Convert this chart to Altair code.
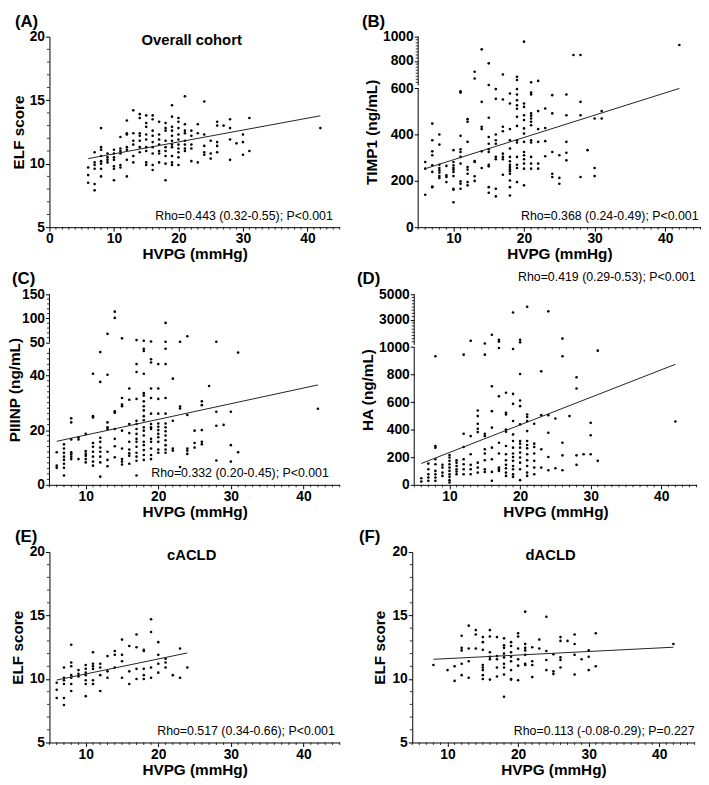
import altair as alt
import pandas as pd

FONT = "Liberation Sans"

# ---------------- data (HVPG levels and the values read at each level) ----------------
A_hvpg = [6, 7, 8, 9, 10, 11, 12, 13, 14, 15, 16, 17, 18, 19, 20, 21, 22, 23, 24, 25, 26, 27, 28, 29, 30, 31, 42]
A_elf = [
    [9.7, 9.1, 8.5],
    [10.9, 10.1, 9.9, 9.6, 8.4, 7.9],
    [12.8, 11.3, 11.1, 10.6, 10.2, 10.0, 9.6, 9.0],
    [10.8, 10.5, 10.3, 10.1],
    [11.1, 10.8, 10.5, 10.3, 9.8, 9.6, 8.7],
    [12.1, 11.2, 11.0, 10.8, 9.9, 9.7],
    [13.4, 12.4, 12.3, 11.3, 11.1, 10.3, 9.0],
    [14.2, 12.4, 11.8, 11.5, 10.6, 10.1],
    [13.9, 13.6, 12.4, 12.2, 11.8, 11.3, 10.9],
    [13.8, 13.2, 12.9, 12.3, 11.9, 11.3, 11.0, 10.1, 9.9],
    [13.8, 13.5, 12.6, 12.2, 11.7, 11.3, 10.8, 9.9, 9.5],
    [13.3, 12.3, 11.9, 11.5, 11.0, 10.8, 10.1],
    [13.2, 12.8, 12.6, 11.8, 11.3, 11.0, 10.6, 10.0, 8.7],
    [14.6, 13.7, 12.9, 12.6, 12.2, 11.8, 11.5, 11.3, 10.6, 10.1, 9.9],
    [13.6, 13.3, 12.8, 12.3, 11.9, 11.5, 11.2, 10.9, 10.5, 9.9],
    [15.3, 13.1, 12.6, 12.4, 11.8, 11.5, 11.2, 11.0],
    [12.6, 12.2, 11.5, 11.2, 10.2],
    [13.1, 12.4, 10.1],
    [14.9, 12.3, 11.4, 10.9, 10.7],
    [11.8, 10.8, 10.4],
    [13.3, 13.0, 11.7, 11.4, 10.9],
    [13.0],
    [13.5, 12.8, 11.9, 10.3],
    [11.6],
    [12.3, 11.7, 10.7],
    [13.6, 11.0],
    [12.8],
]

B_hvpg = A_hvpg
B_timp1 = [
    [282, 253, 140],
    [448, 376, 328, 311, 268, 239, 176, 173],
    [401, 357, 270, 256, 246, 236, 221, 213],
    [265, 224, 217, 195],
    [333, 282, 268, 257, 249, 239, 221, 166, 162, 108],
    [588, 582, 395, 337, 325, 304, 275, 198, 188, 166],
    [467, 456, 369, 260, 249, 231, 195, 181],
    [712, 657, 286, 282, 220, 200],
    [896, 542, 434, 424, 328, 256],
    [781, 603, 473, 390, 361, 337, 325, 270, 263, 173, 149],
    [597, 555, 401, 376, 361, 304, 294, 166, 133],
    [690, 552, 434, 415, 318, 304, 294, 227],
    [578, 535, 424, 376, 340, 304, 285, 270, 260, 250, 242, 231, 202, 173, 137],
    [671, 644, 597, 574, 549, 527, 512, 477, 438, 376, 366, 304, 270, 256, 195],
    [959, 535, 520, 484, 463, 427, 405, 369, 325, 311, 294, 275, 253, 181],
    [625, 582, 574, 492, 482, 470, 456, 441, 376, 366, 304, 275, 253],
    [637, 502, 424, 369, 275, 253],
    [513, 429, 372, 307],
    [571, 492, 325, 231, 217],
    [311, 213, 188],
    [574, 484, 369, 322, 289],
    [849],
    [849, 542, 484, 217],
    [333],
    [470, 256, 221],
    [502, 470],
    [932],
]

C_hvpg = A_hvpg
C_piiinp = [
    [11.9, 7.0, 6.2],
    [14.8, 13.3, 11.7, 10.3, 9.1, 7.7, 6.2, 3.4],
    [24.3, 22.8, 16.6, 11.9, 11.2, 10.3, 9.4],
    [17.4, 16.6, 9.4],
    [18.6, 12.3, 11.3, 10.6, 9.4, 8.2],
    [40.6, 25.1, 24.6, 15.3, 13.9, 12.1, 10.3, 8.5, 7.0],
    [48.5, 37.6, 17.2, 15.7, 13.6, 12.1, 10.3, 8.2, 3.0],
    [68, 40.2, 22.8, 21.0, 20.4, 12.1, 9.1, 6.8],
    [114, 101, 26.9, 26.3, 20.4, 16.8, 14.1, 10.1],
    [58.6, 31.7, 29.3, 28.7, 19.8, 13.3, 9.4, 8.5, 7.4],
    [35.2, 31.1, 22.2, 18.9, 15.7, 12.9, 11.5, 10.6, 7.7],
    [55, 44.1, 41.2, 31.4, 23.4, 22.2, 20.4, 18.6, 16.8, 15.7, 13.9, 11.7, 10.3, 8.8, 3.4],
    [53.6, 49.7, 48.9, 40.6, 33.5, 32.6, 30.5, 28.7, 27.2, 25.1, 23.6, 21.0, 19.8, 18.0, 15.7, 14.5, 12.7, 10.9, 9.1],
    [52.1, 45.9, 44.7, 35.2, 31.7, 26.0, 22.2, 21.0, 20.4, 16.8, 15.7, 13.3, 10.9, 9.4],
    [44.1, 35.2, 31.4, 26.0, 22.4, 21.2, 20.0, 18.6, 17.4, 15.7, 12.9, 11.7],
    [90.7, 51.4, 49.7, 44.1, 31.7, 26.0, 22.4, 21.0, 19.6, 18.0, 16.3, 14.5, 12.9, 11.7],
    [38.8, 23.4, 13.3, 12.5],
    [51.4, 28.6, 27.9, 6.5],
    [62.9, 25.5, 13.3, 12.5, 11.3],
    [19.8, 15.3, 13.6],
    [30.5, 29.1, 20.0, 15.7, 14.8],
    [36.1],
    [51.4, 26.7, 21.6, 8.9],
    [21.9],
    [26.7, 14.5, 8.5],
    [48.3, 11.9],
    [27.8],
]

D_hvpg = A_hvpg
D_ha = [
    [48, 24],
    [154, 113, 77, 53, 29],
    [933, 282, 270, 186, 149, 101, 77, 53, 29],
    [145, 125, 89, 65],
    [217, 198, 174, 149, 125, 101, 77, 58, 34, 17],
    [178, 161, 137, 113, 96, 77],
    [945, 371, 275, 186, 149, 113, 77],
    [1328, 354, 222, 145, 113, 77],
    [540, 499, 443, 407, 383, 161, 125, 89],
    [1119, 945, 371, 354, 258, 227, 178, 113, 94],
    [1806, 716, 535, 415, 270, 186, 94, 29],
    [1418, 1269, 993, 643, 306, 227, 125, 113, 101],
    [668, 523, 511, 402, 386, 282, 222, 178, 145, 120, 89, 65],
    [3567, 986, 660, 588, 463, 366, 318, 270, 227, 202, 174, 137, 113, 77, 58],
    [1418, 1209, 805, 612, 571, 439, 318, 299, 270, 234, 198, 161, 113, 34],
    [4015, 511, 492, 463, 390, 318, 289, 265, 222, 178, 137, 89, 65],
    [443, 299, 275, 227, 174, 125, 77],
    [824, 506, 258, 125],
    [3657, 506, 378, 202, 106],
    [482, 120],
    [1507, 933, 306, 214, 106],
    [499],
    [781, 699, 214, 145],
    [222],
    [450, 360, 222],
    [974, 174],
    [460],
]

E_hvpg = [6, 7, 8, 9, 10, 11, 12, 13, 14, 15, 16, 17, 18, 19, 20, 21, 22, 23, 24]
E_elf = [
    [9.7, 9.15, 8.5],
    [10.9, 10.1, 9.9, 9.6, 8.5, 7.95],
    [12.7, 11.3, 11.0, 10.3, 10.1, 9.6, 9.05],
    [10.7, 10.4, 10.2],
    [11.1, 10.8, 10.5, 10.3, 9.9, 9.6, 8.65],
    [12.1, 11.2, 11.0, 10.8, 9.9, 9.6],
    [11.2, 10.9, 10.3, 9.05],
    [11.8, 10.6, 10.1],
    [12.2, 11.9, 10.9],
    [13.1, 11.9, 11.4, 10.1],
    [12.6, 10.6, 9.6],
    [13.5, 12.5, 10.8, 10.0],
    [12.3, 12.2, 10.8, 10.3, 10.0],
    [14.7, 13.7, 10.9, 10.1],
    [12.9, 11.9, 11.2, 10.5],
    [11.6, 11.3, 10.9],
    [10.3],
    [12.4, 10.1],
    [10.9],
]

F_hvpg = [8, 10, 11, 12, 13, 14, 15, 16, 17, 18, 19, 20, 21, 22, 23, 24, 25, 26, 27, 28, 29, 30, 31, 42]
F_elf = [
    [11.1],
    [10.7],
    [11.0, 9.85],
    [13.4, 12.45, 12.25, 11.2, 10.3],
    [14.2, 12.4, 11.4, 10.1],
    [13.85, 13.5, 12.4],
    [13.3, 12.9, 12.3, 11.1, 10.9, 10.7, 10.3, 10.0],
    [13.85, 13.35, 12.1, 11.75, 11.55, 9.95],
    [13.3, 11.8, 11.55, 10.9, 10.2],
    [13.2, 12.65, 12.45, 12.0, 11.7, 11.2, 10.9, 10.35, 8.6],
    [12.9, 12.6, 12.1, 11.75, 11.4, 10.7, 10.0, 9.95],
    [13.6, 13.35, 12.4, 11.55, 11.05, 9.9],
    [15.3, 12.75, 12.45, 12.25, 11.9, 11.2, 11.1],
    [12.5, 11.4, 11.1, 10.15],
    [13.1, 12.4],
    [14.9, 12.2, 11.5, 10.7],
    [11.95, 10.6, 10.4],
    [13.3, 13.0, 11.7, 11.5, 10.9],
    [13.0],
    [13.5, 12.75, 11.9, 10.35],
    [11.55],
    [12.25, 11.75, 10.7],
    [13.6, 11.0],
    [12.75],
]

# regression line end points
A_fit_x, A_fit_y = [6, 42], [10.4, 13.77]
B_fit_x, B_fit_y = [6, 42], [253, 600]
C_fit_x, C_fit_y = [6, 42], [15.9, 36.5]
D_fit_x, D_fit_y = [6, 42], [155, 875]
E_fit_x, E_fit_y = [6, 24], [9.92, 12.05]
F_fit_x, F_fit_y = [8, 42], [11.55, 12.5]

rho_texts = [
    "Rho=0.443 (0.32-0.55); P<0.001",
    "Rho=0.368 (0.24-0.49); P<0.001",
    "Rho=0.332 (0.20-0.45); P<0.001",
    "Rho=0.419 (0.29-0.53); P<0.001",
    "Rho=0.517 (0.34-0.66); P<0.001",
    "Rho=0.113 (-0.08-0.29); P=0.227",
]

WL, WR, H = 294, 286, 193


def flatten(levels, groups):
    xs, ys = [], []
    for x, g in zip(levels, groups):
        for y in g:
            xs.append(x)
            ys.append(y)
    return pd.DataFrame({"HVPG": xs, "val": ys})


def panel(letter, levels, groups, fit_x, fit_y, ytitle, W, xdom, xmajor,
          low_ticks, up_ticks, brk, ytop, yminor, rho, rho_dx, rho_y,
          inner=None, letter_dx=-36, y_ext=21, ytitle_pad=2):
    if brk is None:
        expr = "datum.val"
        f_low = lambda v: v
        f_up = lambda v: v
        ydom = [low_ticks[0], ytop]
    else:
        L, g, k = brk
        expr = f"datum.val <= {L} ? datum.val : {L + g} + (datum.val - {L}) * {k}"
        f_low = lambda v: v
        f_up = lambda v: L + g + (v - L) * k
        ydom = [low_ticks[0], f_up(ytop)]

    tick_pos = [f_low(v) for v in low_ticks] + [f_up(v) for v in up_ticks]
    tick_lab = [str(v) for v in low_ticks] + [str(v) for v in up_ticks]
    lab_expr = " : ".join(
        f"abs(datum.value - {p}) < 0.01 ? '{t}'" for p, t in zip(tick_pos, tick_lab)
    ) + " : ''"

    xscale = alt.Scale(domain=xdom, nice=False, zero=False)
    yscale = alt.Scale(domain=ydom, nice=False, zero=False)
    xaxis = alt.Axis(values=xmajor, title="HVPG (mmHg)", tickSize=4,
                     labelPadding=1, titlePadding=1, labelFlush=False,
                     minExtent=19, maxExtent=19)
    yaxis = alt.Axis(values=tick_pos, labelExpr=lab_expr, title=ytitle,
                     tickSize=4, labelPadding=1, titlePadding=ytitle_pad,
                     domain=(brk is None), labelFlush=False, labelOverlap=False,
                     minExtent=y_ext, maxExtent=y_ext)

    def X(field):
        return alt.X(field, scale=xscale, axis=xaxis)

    def Y(field):
        return alt.Y(field, scale=yscale, axis=yaxis)

    df = flatten(levels, groups)
    pts = alt.Chart(df).transform_calculate(disp=expr).mark_circle(
        size=7, color="black", opacity=1
    ).encode(x=X("HVPG:Q"), y=Y("disp:Q"))

    fit = alt.Chart(pd.DataFrame({"HVPG": fit_x, "val": fit_y})).transform_calculate(
        disp=expr
    ).mark_line(color="#222222", strokeWidth=1).encode(x=X("HVPG:Q"), y=Y("disp:Q"))

    xmin = [v for v in range(int(xdom[0]), int(xdom[1]) + 1) if v not in xmajor]
    xminor = alt.Chart(pd.DataFrame({"HVPG": xmin})).mark_rule(
        color="black", strokeWidth=0.8
    ).encode(x=X("HVPG:Q"), y=alt.value(H), y2=alt.value(H + 2.5))

    layers = [pts, fit, xminor]

    if yminor:
        ymin_pos = [f_low(v) for v in yminor[0]] + [f_up(v) for v in yminor[1]]
        layers.append(
            alt.Chart(pd.DataFrame({"disp": ymin_pos})).mark_rule(
                color="black", strokeWidth=0.8
            ).encode(y=Y("disp:Q"), x=alt.value(0), x2=alt.value(-2.5))
        )

    if brk is not None:
        L, g, k = brk
        seg = pd.DataFrame({"disp": [ydom[0], L + g], "hi": [L, ydom[1]]})
        layers.append(
            alt.Chart(seg).mark_rule(color="black", strokeWidth=1).encode(
                y=Y("disp:Q"), y2="hi:Q", x=alt.value(0)
            )
        )

    layers.append(
        alt.Chart(pd.DataFrame({"t": [rho]})).mark_text(
            align="right", baseline="alphabetic", font=FONT, fontSize=12.5,
            color="black"
        ).encode(text="t:N", x=alt.value(W - rho_dx), y=alt.value(rho_y))
    )

    if inner:
        layers.append(
            alt.Chart(pd.DataFrame({"t": [inner]})).mark_text(
                align="center", baseline="middle", font=FONT, fontSize=15,
                fontWeight="bold", color="black"
            ).encode(text="t:N", x=alt.value(W * 0.49), y=alt.value(3))
        )

    # panel letter
    layers.append(
        alt.Chart(pd.DataFrame({"t": [letter]})).mark_text(
            align="left", baseline="middle", font=FONT, fontSize=17,
            fontWeight="bold", color="black"
        ).encode(text="t:N", x=alt.value(letter_dx), y=alt.value(-15))
    )

    return alt.layer(*layers).properties(width=W, height=H)


elf_minor = ([v for v in range(5, 21) if v % 5 != 0], [])

pA = panel("(A)", A_hvpg, A_elf, A_fit_x, A_fit_y, "ELF score", WL, [0, 45],
           [0, 10, 20, 30, 40], [5, 10, 15, 20], [], None, 20, elf_minor,
           rho_texts[0], 7, H - 7, inner="Overall cohort", letter_dx=-35,
           y_ext=21, ytitle_pad=2)
pB = panel("(B)", B_hvpg, B_timp1, B_fit_x, B_fit_y, "TIMP1 (ng/mL)", WR, [5, 45],
           [10, 20, 30, 40], [0, 200, 400, 600], [800, 1000], (600, 13, 0.527), 1000,
           ([], [v for v in range(625, 1000, 25) if v != 800]),
           rho_texts[1], 2, H - 7, letter_dx=-57, y_ext=37, ytitle_pad=2)
pC = panel("(C)", C_hvpg, C_piiinp, C_fit_x, C_fit_y, "PIIINP (ng/mL)", WL, [5, 45],
           [10, 20, 30, 40], [0, 20, 40], [50, 100, 150], (50, 2, 0.176), 150,
           ([v for v in range(2, 50, 2) if v not in (20, 40)],
            [v for v in range(60, 150, 10) if v != 100]),
           rho_texts[2], 11, H - 8, letter_dx=-38, y_ext=29, ytitle_pad=-2)
pD = panel("(D)", D_hvpg, D_ha, D_fit_x, D_fit_y, "HA (ng/mL)", WR, [5, 45],
           [10, 20, 30, 40], [0, 200, 400, 600, 800, 1000], [3000, 5000],
           (1000, 15, 0.092), 5000,
           ([], [v for v in range(1250, 5000, 250) if v != 3000]),
           rho_texts[3], 1, -13, letter_dx=-58, y_ext=37, ytitle_pad=2)
pE = panel("(E)", E_hvpg, E_elf, E_fit_x, E_fit_y, "ELF score", WL, [5, 45],
           [10, 20, 30, 40], [5, 10, 15, 20], [], None, 20, elf_minor,
           rho_texts[4], 5, H - 8, inner="cACLD", letter_dx=-35,
           y_ext=21, ytitle_pad=3)
pF = panel("(F)", F_hvpg, F_elf, F_fit_x, F_fit_y, "ELF score", WR, [5, 45],
           [10, 20, 30, 40], [5, 10, 15, 20], [], None, 20, elf_minor,
           rho_texts[5], 0, H - 8, inner="dACLD", letter_dx=-54,
           y_ext=21, ytitle_pad=4)

row1 = alt.hconcat(pA, pB, spacing=21.5)
row2 = alt.hconcat(pC, pD, spacing=16.5)
row3 = alt.hconcat(pE, pF, spacing=18.5)

chart = alt.vconcat(row1, row2, row3, spacing=8).properties(
    padding=0, background="white"
).configure_view(stroke=None).configure_axis(
    labelFont=FONT, titleFont=FONT, labelFontWeight="bold", titleFontWeight="bold",
    labelFontSize=14, titleFontSize=15.5, labelColor="black", titleColor="black",
    domainColor="black", tickColor="black", grid=False, domainWidth=1, tickWidth=1,
)

chart.save("out.html", embed_options={"renderer": "svg", "actions": False})
